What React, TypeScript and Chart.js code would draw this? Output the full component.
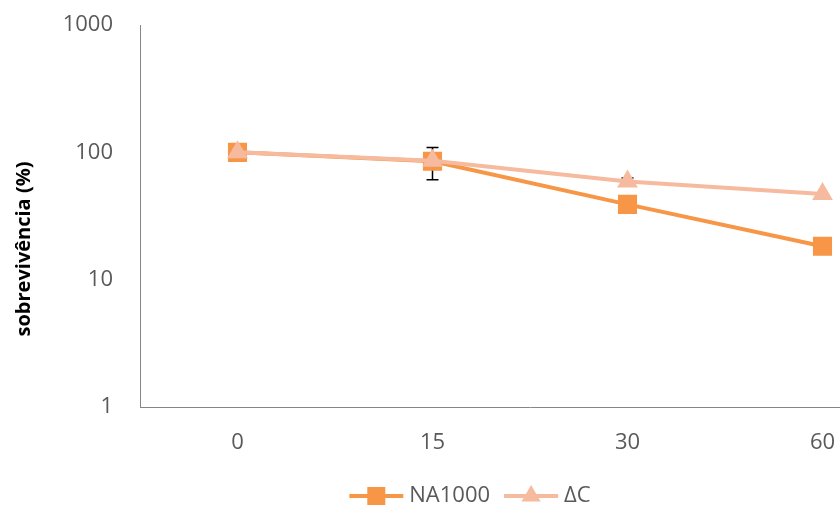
import React, { useEffect, useRef } from "react";
import { Chart, registerables } from "chart.js";

Chart.register(...registerables);

// Survival over time (minutes), log scale
const categories = ["0", "15", "30", "60"];
const na1000 = [100, 85, 39, 18.3];
const na1000Err = [0, 24, 0, 0];
const deltaC = [100, 86, 59, 47];
const deltaCErr = [0, 0, 4, 0];
const yTickValues = [1, 10, 100, 1000];
const yTitle = "sobrevivência (%)";
const seriesNames = ["NA1000", "ΔC"];

const FONT = "'Open Sans', 'Liberation Sans', sans-serif";
const TEXT = "#595959";
const AXIS = "#868686";
const ORANGE = "rgb(247,150,70)";
const PEACH = "rgb(246,186,158)";

const errorBars = {
  id: "errorBars",
  beforeDatasetsDraw(chart: any) {
    const { ctx } = chart;
    const y = chart.scales.y;
    chart.data.datasets.forEach((ds: any, i: number) => {
      const meta = chart.getDatasetMeta(i);
      const errs: number[] = ds.errors || [];
      meta.data.forEach((pt: any, j: number) => {
        const e = errs[j];
        if (!e) return;
        const v = ds.data[j];
        const top = y.getPixelForValue(v + e);
        const bot = y.getPixelForValue(v - e);
        ctx.save();
        ctx.strokeStyle = "#000";
        ctx.lineWidth = 1.5;
        ctx.beginPath();
        ctx.moveTo(pt.x, top);
        ctx.lineTo(pt.x, bot);
        ctx.moveTo(pt.x - 6, top);
        ctx.lineTo(pt.x + 6, top);
        ctx.moveTo(pt.x - 6, bot);
        ctx.lineTo(pt.x + 6, bot);
        ctx.stroke();
        ctx.restore();
      });
    });
  },
};

const decorations = {
  id: "decorations",
  afterDraw(chart: any) {
    const { ctx } = chart;
    // rotated y-axis title
    ctx.save();
    ctx.translate(24, 249);
    ctx.rotate(-Math.PI / 2);
    ctx.font = `bold 20px ${FONT}`;
    ctx.fillStyle = "#000";
    ctx.textAlign = "center";
    ctx.textBaseline = "middle";
    ctx.fillText(yTitle, 0, 0);
    ctx.restore();

    // legend with line + marker samples
    ctx.save();
    ctx.font = `22px ${FONT}`;
    const lineLen = 54;
    const gap = 6;
    const spacing = 14;
    const items = chart.data.datasets.map((ds: any) => ({
      ds,
      w: lineLen + gap + ctx.measureText(ds.label).width,
    }));
    const total = items.reduce((s: number, it: any) => s + it.w, 0) + spacing * (items.length - 1);
    let x = 470 - total / 2;
    const yc = 496;
    items.forEach((it: any) => {
      const ds = it.ds;
      ctx.strokeStyle = ds.borderColor;
      ctx.lineWidth = ds.borderWidth;
      ctx.beginPath();
      ctx.moveTo(x, yc);
      ctx.lineTo(x + lineLen, yc);
      ctx.stroke();
      ctx.fillStyle = ds.pointBackgroundColor;
      const mx = x + lineLen / 2;
      if (ds.pointStyle === "rect") {
        const s = 9;
        ctx.fillRect(mx - s, yc - s, 2 * s, 2 * s);
      } else {
        const r = 11;
        ctx.beginPath();
        ctx.moveTo(mx, yc - r);
        ctx.lineTo(mx + r * 0.866, yc + r / 2);
        ctx.lineTo(mx - r * 0.866, yc + r / 2);
        ctx.closePath();
        ctx.fill();
      }
      ctx.fillStyle = TEXT;
      ctx.textAlign = "left";
      ctx.textBaseline = "middle";
      ctx.fillText(ds.label, x + lineLen + gap, yc);
      x += it.w + spacing;
    });
    ctx.restore();
  },
};

export default function App() {
  const ref = useRef<HTMLCanvasElement>(null);

  useEffect(() => {
    if (!ref.current) return;
    const chart = new Chart(ref.current, {
      type: "line",
      data: {
        labels: categories,
        datasets: [
          {
            label: seriesNames[0],
            data: na1000,
            errors: na1000Err,
            borderColor: ORANGE,
            backgroundColor: ORANGE,
            pointBackgroundColor: ORANGE,
            pointBorderWidth: 0,
            pointStyle: "rect",
            pointRadius: 13.5,
            borderWidth: 4,
            order: 1,
          } as any,
          {
            label: seriesNames[1],
            data: deltaC,
            errors: deltaCErr,
            borderColor: PEACH,
            backgroundColor: PEACH,
            pointBackgroundColor: PEACH,
            pointBorderWidth: 0,
            pointStyle: "triangle",
            pointRadius: 12,
            borderWidth: 4,
            order: 0,
          } as any,
        ],
      },
      options: {
        responsive: false,
        animation: false,
        layout: { padding: { top: 25, right: 20, left: 0, bottom: 0 } },
        plugins: {
          legend: { display: false },
          tooltip: { enabled: false },
        },
        scales: {
          x: {
            type: "category",
            offset: true,
            grid: { display: false, drawTicks: false },
            border: { display: true, color: AXIS, width: 1 },
            ticks: {
              color: TEXT,
              font: { family: FONT, size: 22 },
              padding: 23,
              maxRotation: 0,
            },
            afterFit(scale: any) {
              scale.height = 101;
              scale.paddingLeft = 0;
              scale.paddingRight = 0;
            },
          },
          y: {
            type: "logarithmic",
            min: 1,
            max: 1000,
            grid: { display: false, drawTicks: false },
            border: { display: true, color: AXIS, width: 1 },
            ticks: {
              color: TEXT,
              font: { family: FONT, size: 22 },
              padding: 27,
              callback: (v: any) => String(v),
            },
            afterBuildTicks(scale: any) {
              scale.ticks = yTickValues.map((v) => ({ value: v }));
            },
            afterFit(scale: any) {
              scale.width = 140;
              scale.paddingTop = 0;
              scale.paddingBottom = 0;
            },
          },
        },
      },
      plugins: [errorBars, decorations],
    });
    return () => chart.destroy();
  }, []);

  return (
    <div
      style={{
        position: "absolute",
        left: 0,
        top: 0,
        width: 840,
        height: 508,
        overflow: "hidden",
        background: "#fff",
      }}
    >
      <canvas ref={ref} width={940} height={508} style={{ width: 940, height: 508 }} />
    </div>
  );
}
